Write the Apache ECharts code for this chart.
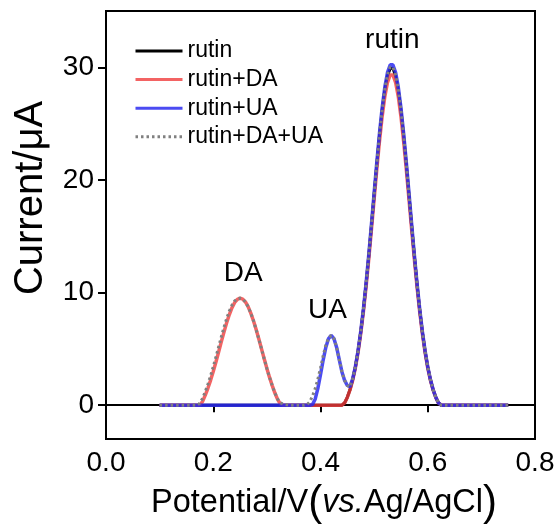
<!DOCTYPE html>
<html>
<head>
<meta charset="utf-8">
<script src="https://cdn.jsdelivr.net/npm/echarts@6/dist/echarts.min.js"></script>
<style>
  html, body { margin: 0; padding: 0; background: #fff; }
  #chart { width: 560px; height: 529px; }
</style>
</head>
<body>
<div id="chart"></div>
<script>
// Differential pulse voltammograms: potential (V vs. Ag/AgCl) -> current (µA)
const seriesNames = ['rutin', 'rutin+DA', 'rutin+UA', 'rutin+DA+UA'];

const rutinOnly = [
  [0.10, 0], [0.44, 0],
  [0.445, 0.20], [0.45, 0.70], [0.455, 1.37], [0.46, 2.26], [0.465, 3.38], [0.47, 4.78],
  [0.475, 6.47], [0.48, 8.46], [0.485, 10.73], [0.49, 13.23], [0.495, 15.91], [0.50, 18.66],
  [0.505, 21.37], [0.51, 23.92], [0.515, 26.16], [0.52, 27.98], [0.525, 29.26], [0.53, 29.92],
  [0.535, 29.92], [0.54, 29.26], [0.545, 27.98], [0.55, 26.16], [0.555, 23.92], [0.56, 21.37],
  [0.565, 18.66], [0.57, 15.91], [0.575, 13.23], [0.58, 10.73], [0.585, 8.46], [0.59, 6.47],
  [0.595, 4.78], [0.60, 3.38], [0.605, 2.26], [0.61, 1.37], [0.615, 0.70], [0.62, 0.20],
  [0.625, 0], [0.75, 0]
];

const rutinDA = [
  [0.10, 0], [0.175, 0],
  [0.18, 0.33], [0.185, 0.87], [0.19, 1.50], [0.195, 2.21], [0.20, 3.00], [0.205, 3.84],
  [0.21, 4.72], [0.215, 5.62], [0.22, 6.49], [0.225, 7.32], [0.23, 8.05], [0.235, 8.66],
  [0.24, 9.12], [0.245, 9.40], [0.25, 9.50], [0.255, 9.42], [0.26, 9.17], [0.265, 8.75],
  [0.27, 8.18], [0.275, 7.50], [0.28, 6.72], [0.285, 5.88], [0.29, 5.00], [0.295, 4.12],
  [0.30, 3.27], [0.305, 2.47], [0.31, 1.74], [0.315, 1.08], [0.32, 0.52], [0.325, 0.12],
  [0.33, 0], [0.44, 0],
  [0.445, 0.20], [0.45, 0.69], [0.455, 1.35], [0.46, 2.21], [0.465, 3.31], [0.47, 4.69],
  [0.475, 6.34], [0.48, 8.29], [0.485, 10.51], [0.49, 12.97], [0.495, 15.59], [0.50, 18.28],
  [0.505, 20.94], [0.51, 23.44], [0.515, 25.64], [0.52, 27.42], [0.525, 28.67], [0.53, 29.32],
  [0.535, 29.32], [0.54, 28.67], [0.545, 27.42], [0.55, 25.64], [0.555, 23.44], [0.56, 20.94],
  [0.565, 18.28], [0.57, 15.59], [0.575, 12.97], [0.58, 10.51], [0.585, 8.29], [0.59, 6.34],
  [0.595, 4.69], [0.60, 3.31], [0.605, 2.21], [0.61, 1.35], [0.615, 0.69], [0.62, 0.20],
  [0.625, 0], [0.75, 0]
];

const rutinUA = [
  [0.10, 0], [0.38, 0],
  [0.385, 0.05], [0.39, 0.53], [0.395, 1.47], [0.40, 2.71], [0.405, 4.01], [0.41, 5.15],
  [0.415, 5.92], [0.42, 6.20], [0.425, 5.92], [0.43, 5.15], [0.435, 4.05], [0.44, 2.95],
  [0.445, 2.20], [0.45, 1.75], [0.455, 1.65], [0.46, 2.35], [0.465, 3.41], [0.47, 4.83],
  [0.475, 6.54], [0.48, 8.54], [0.485, 10.84], [0.49, 13.37], [0.495, 16.07], [0.50, 18.84],
  [0.505, 21.59], [0.51, 24.16], [0.515, 26.42], [0.52, 28.26], [0.525, 29.55], [0.53, 30.22],
  [0.535, 30.22], [0.54, 29.55], [0.545, 28.26], [0.55, 26.42], [0.555, 24.16], [0.56, 21.59],
  [0.565, 18.84], [0.57, 16.07], [0.575, 13.37], [0.58, 10.84], [0.585, 8.54], [0.59, 6.54],
  [0.595, 4.83], [0.60, 3.41], [0.605, 2.28], [0.61, 1.39], [0.615, 0.71], [0.62, 0.20],
  [0.625, 0], [0.75, 0]
];

const rutinDAUA = [
  [0.10, 0], [0.17, 0],
  [0.175, 0.17], [0.18, 0.60], [0.185, 1.19], [0.19, 1.86], [0.195, 2.61], [0.20, 3.42],
  [0.205, 4.28], [0.21, 5.17], [0.215, 6.06], [0.22, 6.91], [0.225, 7.69], [0.23, 8.36],
  [0.235, 8.89], [0.24, 9.26], [0.245, 9.45], [0.25, 9.50], [0.255, 9.42], [0.26, 9.17],
  [0.265, 8.75], [0.27, 8.18], [0.275, 7.50], [0.28, 6.72], [0.285, 5.88], [0.29, 5.00],
  [0.295, 4.12], [0.30, 3.27], [0.305, 2.47], [0.31, 1.74], [0.315, 1.08], [0.32, 0.55],
  [0.325, 0.22], [0.33, 0.12], [0.335, 0.06], [0.34, 0.02], [0.345, 0], [0.37, 0],
  [0.375, 0.05], [0.38, 0.30], [0.385, 0.80], [0.39, 1.45], [0.395, 2.30], [0.40, 3.30],
  [0.405, 4.40], [0.41, 5.35], [0.415, 5.97], [0.42, 6.20], [0.425, 5.92], [0.43, 5.15],
  [0.435, 4.05], [0.44, 2.95], [0.445, 2.20], [0.45, 1.75], [0.455, 1.62], [0.46, 2.33],
  [0.465, 3.39], [0.47, 4.80], [0.475, 6.50], [0.48, 8.49], [0.485, 10.76], [0.49, 13.28],
  [0.495, 15.96], [0.50, 18.72], [0.505, 21.44], [0.51, 24.00], [0.515, 26.25], [0.52, 28.07],
  [0.525, 29.35], [0.53, 30.02], [0.535, 30.02], [0.54, 29.35], [0.545, 28.07], [0.55, 26.25],
  [0.555, 24.00], [0.56, 21.44], [0.565, 18.72], [0.57, 15.96], [0.575, 13.28], [0.58, 10.76],
  [0.585, 8.49], [0.59, 6.50], [0.595, 4.80], [0.60, 3.39], [0.605, 2.26], [0.61, 1.38],
  [0.615, 0.70], [0.62, 0.20], [0.625, 0], [0.75, 0]
];

const xTicks = [0, 0.2, 0.4, 0.6, 0.8];
const yTicks = [0, 10, 20, 30];

// peak annotations: [potential, current, text]
const peakLabels = [
  [0.534, 32.4, 'rutin'],
  [0.256, 11.75, 'DA'],
  [0.413, 8.4, 'UA']
];

const FONT = "'Liberation Sans', Arial, Helvetica, sans-serif";

const chart = echarts.init(document.getElementById('chart'));

function lineSeries(name, data, color, width, opacity, type) {
  return {
    name: name,
    type: 'line',
    data: data,
    symbol: 'none',
    showSymbol: false,
    smooth: false,
    silent: true,
    lineStyle: { color: color, width: width, opacity: opacity, type: type || 'solid', cap: 'butt' },
    itemStyle: { color: color }
  };
}

chart.setOption({
  animation: false,
  backgroundColor: '#fff',
  textStyle: { fontFamily: FONT },
  grid: {
    left: 106, right: 25, top: 11, bottom: 90,
    show: true, borderColor: '#000', borderWidth: 2, backgroundColor: 'transparent'
  },
  legend: {
    data: seriesNames,
    orient: 'vertical',
    left: 134, top: 39, padding: 0,
    itemWidth: 47, itemHeight: 14, itemGap: 4.6,
    itemStyle: { opacity: 0 },
    lineStyle: { width: 3 },
    textStyle: { fontSize: 23, color: '#000', fontFamily: FONT, lineHeight: 24 }
  },
  xAxis: {
    type: 'value', min: 0, max: 0.8, interval: 0.2,
    splitLine: { show: false },
    axisLine: { lineStyle: { color: '#000', width: 2 } },
    axisTick: { show: true, inside: false, length: 7, customValues: xTicks, lineStyle: { color: '#000', width: 2 } },
    axisLabel: {
      customValues: xTicks, color: '#000', fontSize: 28, fontFamily: FONT, margin: 10,
      formatter: function (v) { return v.toFixed(1); }
    }
  },
  yAxis: {
    type: 'value', min: -3, max: 35,
    splitLine: { show: false },
    axisLine: { lineStyle: { color: '#000', width: 2 } },
    axisTick: { show: true, inside: false, length: 8, customValues: yTicks, lineStyle: { color: '#000', width: 2 } },
    axisLabel: { customValues: yTicks, color: '#000', fontSize: 28, fontFamily: FONT, margin: 12 }
  },
  series: [
    lineSeries(seriesNames[0], rutinOnly, '#000000', 3, 1),
    lineSeries(seriesNames[1], rutinDA, '#f03c3c', 3.5, 0.8),
    lineSeries(seriesNames[2], rutinUA, '#2b2bf0', 3.5, 0.85),
    lineSeries(seriesNames[3], rutinDAUA, '#808080', 3, 1, [2.5, 3])
  ]
});

// axis titles plus peak annotations placed through the grid's own coordinate conversion
const graphics = [
  {
    id: 'xTitle', type: 'text', x: 324, y: 503, silent: true,
    style: {
      text: '{a|Potential/V}{p|(}{i|vs.}{a|Ag/AgCl}{p|)}',
      align: 'center', verticalAlign: 'middle', fill: '#000',
      rich: {
        a: { fontSize: 32.5, fontFamily: FONT, fill: '#000' },
        i: { fontSize: 32.5, fontFamily: FONT, fontStyle: 'italic', fill: '#000' },
        p: { fontSize: 42, fontFamily: FONT, fill: '#000' }
      }
    }
  },
  {
    id: 'yTitle', type: 'text', x: 31, y: 198, rotation: Math.PI / 2, silent: true,
    style: {
      text: 'Current/\u03bcA', align: 'center', verticalAlign: 'middle', fill: '#000',
      font: '40px ' + FONT
    }
  }
];
peakLabels.forEach(function (p, i) {
  const pt = chart.convertToPixel({ gridIndex: 0 }, [p[0], p[1]]);
  graphics.push({
    id: 'peak' + i, type: 'text', x: pt[0], y: pt[1], silent: true, z: 10,
    style: {
      text: p[2], align: 'center', verticalAlign: 'middle', fill: '#000',
      font: '28px ' + FONT
    }
  });
});
chart.setOption({ graphic: graphics });
</script>
</body>
</html>
